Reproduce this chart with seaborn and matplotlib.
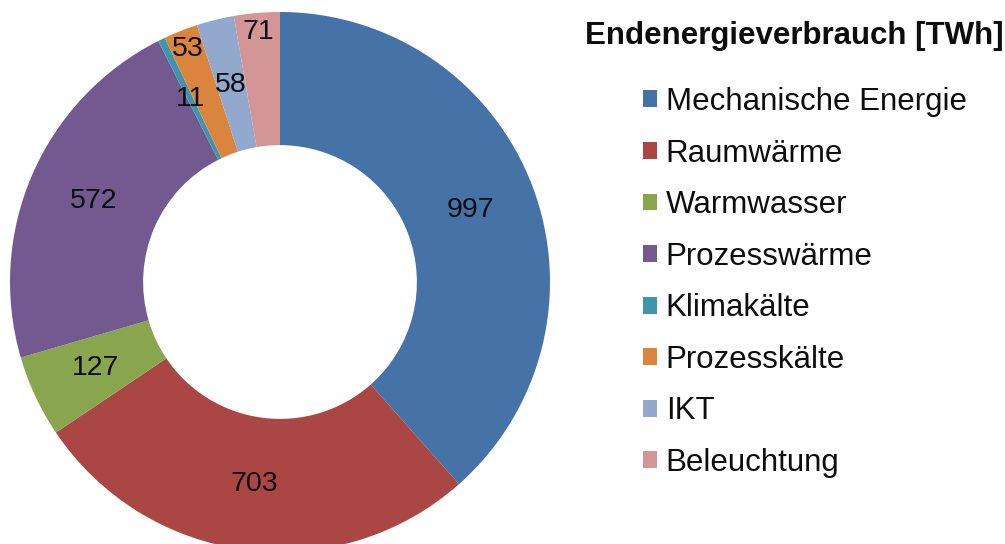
import matplotlib
matplotlib.use("Agg")
import matplotlib.pyplot as plt
from matplotlib.patches import Patch
import numpy as np
import seaborn as sns

# Final energy consumption by application [TWh]
categories = ["Mechanische Energie", "Raumwärme", "Warmwasser", "Prozesswärme",
              "Klimakälte", "Prozesskälte", "IKT", "Beleuchtung"]
values = [997, 703, 127, 572, 11, 53, 58, 71]
colors = ["#4572A7", "#AA4643", "#89A54E", "#725A91",
          "#3D96AE", "#DB843D", "#92A8CD", "#D39595"]
# radial position of each value label (fraction of outer radius)
label_radius = [0.753, 0.753, 0.753, 0.753, 0.753, 0.93, 0.753, 0.93]
title = "Endenergieverbrauch [TWh]"

sns.set_theme(style="white")
plt.rcParams["font.family"] = ["Liberation Sans", "DejaVu Sans"]

W, H = 1005, 544
fig = plt.figure(figsize=(W / 100, H / 100), dpi=100)

# donut axes: centre (280, 282) px from top-left, outer radius 270 px
cx, cy, R = 280, 282, 270
ax = fig.add_axes([(cx - R) / W, (H - cy - R) / H, 2 * R / W, 2 * R / H])

hole = 0.507
wedges, _ = ax.pie(values, colors=colors, startangle=90, counterclock=False,
                   radius=1.0, wedgeprops=dict(width=1 - hole, linewidth=0))
ax.set_xlim(-1, 1)
ax.set_ylim(-1, 1)
ax.set_aspect("equal")
ax.axis("off")

for w, v, r in zip(wedges, values, label_radius):
    ang = np.deg2rad((w.theta1 + w.theta2) / 2)
    ax.text(r * np.cos(ang), r * np.sin(ang), str(v), ha="center", va="center",
            fontsize=20.5, color="#0d0d0d")

fig.text(585 / W, 1 - 36 / H, title, ha="left", va="center",
         fontsize=22.5, fontweight="bold", color="#0d0d0d")

handles = [Patch(facecolor=c, edgecolor="none") for c in colors]
leg = fig.legend(handles, categories, loc="upper left",
                 bbox_to_anchor=(643 / W, 1 - 87 / H), frameon=False,
                 fontsize=22.5, handlelength=0.45, handleheight=0.45,
                 handletextpad=0.28, labelspacing=0.69, borderpad=0,
                 borderaxespad=0)
for t in leg.get_texts():
    t.set_color("#0d0d0d")

fig.savefig("out.png", dpi=100)
